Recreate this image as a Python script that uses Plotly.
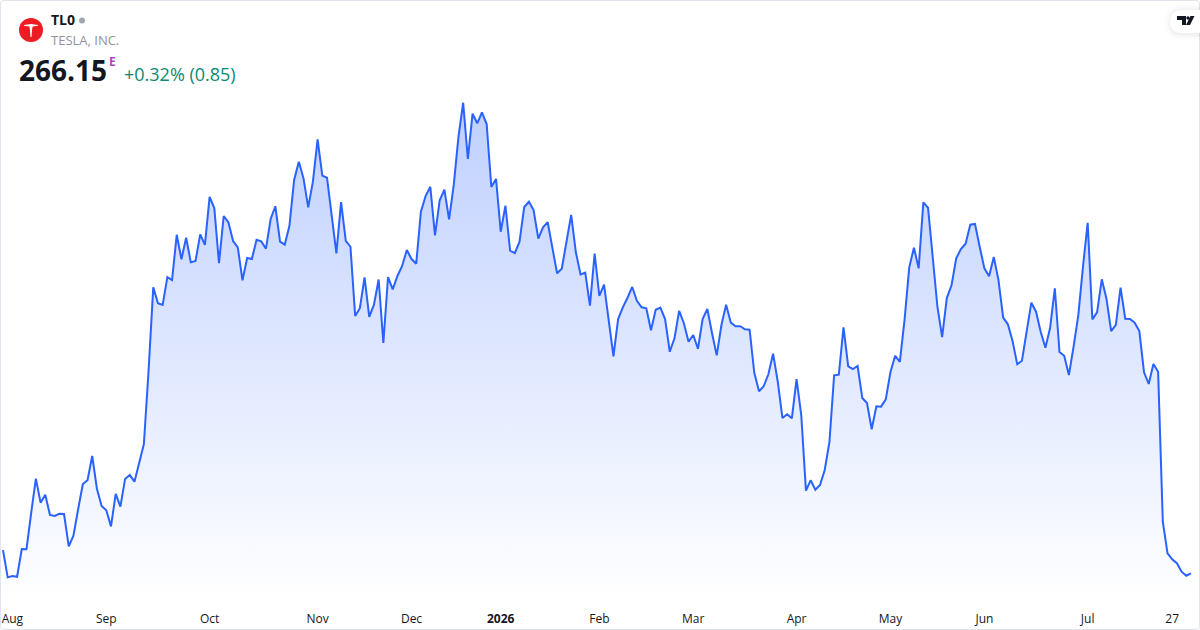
import plotly.graph_objects as go

# Daily closing prices (EUR)
prices = [
 273.9,264.8,265.25,265.0,274.25,274.15,286.25,297.7,289.7,292.35,285.6,285.25,286.0,285.9,275.15,278.7,287.5,295.9,297.15,305.25,
 294.35,288.6,287.15,281.8,292.6,288.35,297.6,298.9,296.7,303.35,309.25,333.6,361.5,356.15,355.6,364.9,363.9,379.0,370.8,378.0,
 369.8,370.25,379.15,375.6,391.6,387.9,369.5,385.25,383.15,376.9,374.8,363.8,371.25,370.9,377.35,376.8,374.35,384.25,388.5,376.7,
 375.7,382.0,397.25,403.35,397.8,388.15,396.7,410.8,398.7,398.0,385.0,372.8,389.9,377.0,375.0,351.9,354.5,364.8,351.6,355.7,
 364.1,342.9,364.9,360.8,365.25,368.6,373.9,370.9,369.35,386.7,391.9,395.0,378.8,390.5,394.0,384.15,395.7,411.7,423.0,404.25,
 419.35,416.15,419.8,415.9,394.9,397.6,380.0,388.7,373.7,372.9,376.7,388.25,390.0,387.25,377.7,381.5,383.15,374.5,366.15,367.7,
 376.7,385.6,373.15,365.8,366.35,355.35,372.7,358.65,362.35,349.5,338.5,350.9,354.8,358.0,361.6,357.0,354.8,354.5,347.15,354.0,
 354.7,350.9,340.0,344.5,353.6,349.5,343.35,345.6,341.0,350.9,354.25,346.15,338.8,348.9,355.7,349.7,348.5,348.5,347.5,347.35,
 333.0,326.8,328.5,332.5,339.35,330.0,317.9,319.15,317.8,330.9,318.9,293.7,297.15,294.0,295.6,300.6,309.9,332.15,332.35,348.15,
 335.15,334.25,335.25,324.6,322.9,314.15,321.8,321.7,324.15,333.25,338.65,336.6,350.6,368.15,374.7,367.8,389.8,388.0,371.7,355.0,
 344.9,357.9,362.15,371.15,374.25,376.0,382.35,382.6,375.0,367.8,365.15,371.6,363.9,351.35,349.15,343.6,335.8,337.0,346.7,356.35,
 353.35,346.6,341.35,348.0,361.15,339.9,338.65,332.25,341.7,352.15,368.35,383.0,350.8,353.15,364.15,357.7,346.9,349.0,361.35,351.0,
 350.9,349.7,346.9,333.15,329.25,335.9,333.35,283.35,272.8,270.8,269.5,266.7,265.35,266.15]
month_labels = ["Aug","Sep","Oct","Nov","Dec","<b>2026</b>","Feb","Mar","Apr","May","Jun","Jul","27"]
month_index = [2,22,44,67,87,106,127,147,169,189,209,231,249]
ticker = "TL0"
company = "TESLA, INC."
last_price = "266.15"
change_text = "+0.32% (0.85)"

W, H, BOTTOM = 1200, 630, 30
PH = H - BOTTOM
def px(x): return x / W
def py(y): return 1 - y / PH
FONT = "Open Sans"

fig = go.Figure()
fig.add_trace(go.Scatter(
    x=list(range(len(prices))), y=prices, mode="lines",
    line=dict(color="#2962ff", width=2, shape="linear"),
    fill="tozeroy",
    fillgradient=dict(type="vertical", start=257.25, stop=423.0,
                      colorscale=[[0, "rgba(41,98,255,0)"], [1, "rgba(41,98,255,0.3)"]]),
    hoverinfo="skip", showlegend=False,
))

def T(x, y, s, size, color, weight=400, anchor="left"):
    fig.add_annotation(xref="paper", yref="paper", x=px(x - 2), y=py(y - 1), text=s, showarrow=False,
                       xanchor=anchor, yanchor="middle", align="left",
                       font=dict(family=FONT, size=size, color=color, weight=weight))

T(51, 21, ticker, 14, "#131722", 700)
T(51, 41, company, 13, "#8f929b")
T(19, 71, last_price, 28, "#131722", 700)
T(109, 62, "E", 12, "#ab47bc", 700)
T(124, 75, change_text, 18, "#0b8a72")

def path(points, close=True):
    s = "M " + " L ".join(f"{px(x):.5f},{py(y):.5f}" for x, y in points)
    return s + (" Z" if close else "")

shapes = []
# frame
shapes.append(dict(type="path", xref="paper", yref="paper", line=dict(color="#e0e3eb", width=1),
    path=f"M {px(3.5)},{py(0.5)} L {px(1196.5)},{py(0.5)} Q {px(1199.5)},{py(0.5)} {px(1199.5)},{py(3.5)} "
         f"L {px(1199.5)},{py(626.5)} Q {px(1199.5)},{py(629.5)} {px(1196.5)},{py(629.5)} "
         f"L {px(3.5)},{py(629.5)} Q {px(0.5)},{py(629.5)} {px(0.5)},{py(626.5)} "
         f"L {px(0.5)},{py(3.5)} Q {px(0.5)},{py(0.5)} {px(3.5)},{py(0.5)} Z"))
# logo circle and dot
shapes.append(dict(type="circle", xref="paper", yref="paper", x0=px(19), x1=px(43), y0=py(42), y1=py(18),
                   fillcolor="#ed1c24", line=dict(width=0)))
shapes.append(dict(type="circle", xref="paper", yref="paper", x0=px(79), x1=px(85), y0=py(23.5), y1=py(17.5),
                   fillcolor="#a3a6af", line=dict(width=0)))
# Tesla T
shapes.append(dict(type="path", xref="paper", yref="paper", fillcolor="white", line=dict(width=0),
    path=path([(24,25),(31,24),(38,25),(38,25.8),(32.7,26.4),(32.2,28.5),(31.5,37),(30.5,37),(29.8,28.5),(29.3,26.4),(24,25.8)])))
# TradingView badge shadow + pill
for grow, op in [(7, .006), (5, .01), (3, .014), (1.5, .018)]:
    shapes.append(dict(type="path", xref="paper", yref="paper", fillcolor=f"rgba(0,0,0,{op})", line=dict(width=0),
        path=f"M {px(1200)},{py(10-grow+1)} L {px(1183)},{py(10-grow+1)} Q {px(1171-grow)},{py(10-grow+1)} {px(1171-grow)},{py(21.5+1)} "
             f"Q {px(1171-grow)},{py(33+grow+1)} {px(1183)},{py(33+grow+1)} L {px(1200)},{py(33+grow+1)} Z"))
shapes.append(dict(type="path", xref="paper", yref="paper", fillcolor="white", line=dict(width=0),
    path=f"M {px(1200)},{py(10)} L {px(1183)},{py(10)} Q {px(1170)},{py(10)} {px(1170)},{py(21.5)} "
         f"Q {px(1170)},{py(33)} {px(1183)},{py(33)} L {px(1200)},{py(33)} Z"))
# TradingView glyph
shapes.append(dict(type="path", xref="paper", yref="paper", fillcolor="#131722", line=dict(width=0),
    path=path([(1177,16),(1186,16),(1186,25),(1182,25),(1182,20),(1177,20)])))
shapes.append(dict(type="circle", xref="paper", yref="paper", x0=px(1186.3), x1=px(1189.7), y0=py(19.7), y1=py(16.3),
                   fillcolor="#131722", line=dict(width=0)))
shapes.append(dict(type="path", xref="paper", yref="paper", fillcolor="#131722", line=dict(width=0),
    path=path([(1190.5,16),(1194.5,16),(1190,25),(1186,25)])))

fig.update_layout(
    width=W, height=H, margin=dict(l=0, r=0, t=0, b=BOTTOM),
    paper_bgcolor="white", plot_bgcolor="rgba(0,0,0,0)",
    shapes=shapes, showlegend=False,
    xaxis=dict(range=[-0.639, 254.92], showgrid=False, zeroline=False, showline=False,
               tickmode="array", tickvals=month_index, ticktext=month_labels, ticks="", ticklen=0,
               ticklabelstandoff=10,
               tickfont=dict(family=FONT, size=12, color="#131722"), fixedrange=True),
    yaxis=dict(range=[257.25, 457.25], visible=False, fixedrange=True),
)
fig.write_html("out.html", config={"displayModeBar": False},
               post_script="document.body.style.margin='0';document.documentElement.style.overflow='hidden';")
